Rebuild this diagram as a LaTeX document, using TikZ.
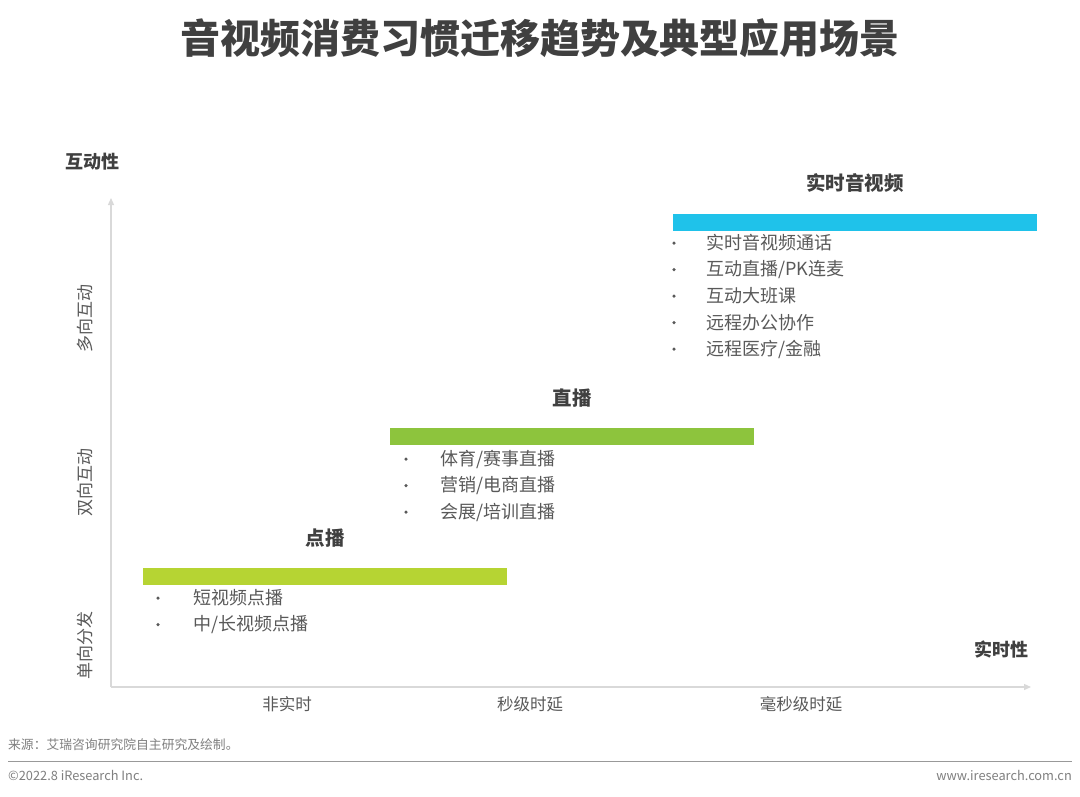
\documentclass[tikz,border=0pt]{standalone}
\usepackage{fontspec}
\setmainfont{Noto Sans CJK SC}
\usetikzlibrary{arrows.meta}
\definecolor{ctitle}{HTML}{404040}
\definecolor{ctext}{HTML}{595959}
\definecolor{caxis}{HTML}{D9D9D9}
\definecolor{cblue}{HTML}{1FC2EA}
\definecolor{cgreen}{HTML}{8DC43D}
\definecolor{cyellow}{HTML}{B6D433}
\definecolor{cfoot}{HTML}{7F7F7F}
\begin{document}
\begin{tikzpicture}[x=1pt,y=-1pt,
  maintitle/.style={font=\bfseries\fontsize{40}{44}\selectfont, text=ctitle, inner sep=0pt},
  axtitle/.style={font=\bfseries\fontsize{18}{21}\selectfont, text=ctitle, inner sep=0pt},
  ylab/.style={font=\fontsize{17}{20}\selectfont, text=ctext, rotate=90, inner sep=0pt},
  xlab/.style={font=\fontsize{16.5}{19}\selectfont, text=ctext, inner sep=0pt},
  grptitle/.style={font=\bfseries\fontsize{19.5}{22}\selectfont, text=ctitle, inner sep=0pt},
  bar/.style={draw=none, minimum width=364pt, minimum height=17pt, inner sep=0pt},
  item/.style={font=\fontsize{18}{21}\selectfont, text=ctext, anchor=west, inner sep=0pt},
  dot/.style={circle, fill=ctext, minimum size=3.5pt, inner sep=0pt},
  axis/.style={draw=caxis, line width=1.2pt, -{Triangle[length=7pt,width=6pt]}},
  foot/.style={font=\fontsize{12.8}{15}\selectfont, text=cfoot, inner sep=0pt}
]
\useasboundingbox[fill=white] (0,0) rectangle (1080,796);

% title
\node[maintitle] (title) at (540,38) {音视频消费习惯迁移趋势及典型应用场景};

% axes
\coordinate (O) at (111,687);
\coordinate (ytop) at (111,198);
\coordinate (xend) at (1031,687);
\draw[axis] (O) -- (ytop);
\draw[axis] (O) -- (xend);
\node[axtitle] (ytitle) at (92,162) {互动性};
\node[axtitle] (xtitle) at (1001,650) {实时性};

\node[ylab] (y1) at (85,318) {多向互动};
\node[ylab] (y2) at (85,482) {双向互动};
\node[ylab] (y3) at (85,645) {单向分发};

\node[xlab] (x1) at (287,704) {非实时};
\node[xlab] (x2) at (530,704) {秒级时延};
\node[xlab] (x3) at (801,704) {毫秒级时延};

% real-time AV
\node[grptitle] (rtt) at (855,183) {实时音视频};
\node[bar, fill=cblue] (rtbar) at (855,222.5) {};
\foreach \t [count=\i] in {实时音视频通话,互动直播/PK连麦,互动大班课,远程办公协作,远程医疗/金融}{
  \node[dot] (rtd\i) at (674,{243+26.5*(\i-1)}) {};
  \node[item] (rti\i) at (706,{243+26.5*(\i-1)}) {\t};
}

% live
\node[grptitle] (lvt) at (572,398) {直播};
\node[bar, fill=cgreen] (lvbar) at (572,436) {};
\foreach \t [count=\i] in {体育/赛事直播,营销/电商直播,会展/培训直播}{
  \node[dot] (lvd\i) at (406,{459+26.5*(\i-1)}) {};
  \node[item] (lvi\i) at (440,{459+26.5*(\i-1)}) {\t};
}

% vod
\node[grptitle] (vdt) at (325,538) {点播};
\node[bar, fill=cyellow] (vdbar) at (325,576) {};
\foreach \t [count=\i] in {短视频点播,中/长视频点播}{
  \node[dot] (vdd\i) at (158,{598+26.5*(\i-1)}) {};
  \node[item] (vdi\i) at (193,{598+26.5*(\i-1)}) {\t};
}

% footer
\node[foot, anchor=west] (src) at (8,745) {来源：艾瑞咨询研究院自主研究及绘制。};
\coordinate (fl) at (8,761);
\coordinate (fr) at (1072,761);
\draw[draw=cfoot!80, line width=0.8pt] (fl) -- (fr);
\node[foot, anchor=west] (copy) at (8,775) {©2022.8 iResearch Inc.};
\node[foot, anchor=east] (web) at (1072,775) {www.iresearch.com.cn};
\end{tikzpicture}
\end{document}
